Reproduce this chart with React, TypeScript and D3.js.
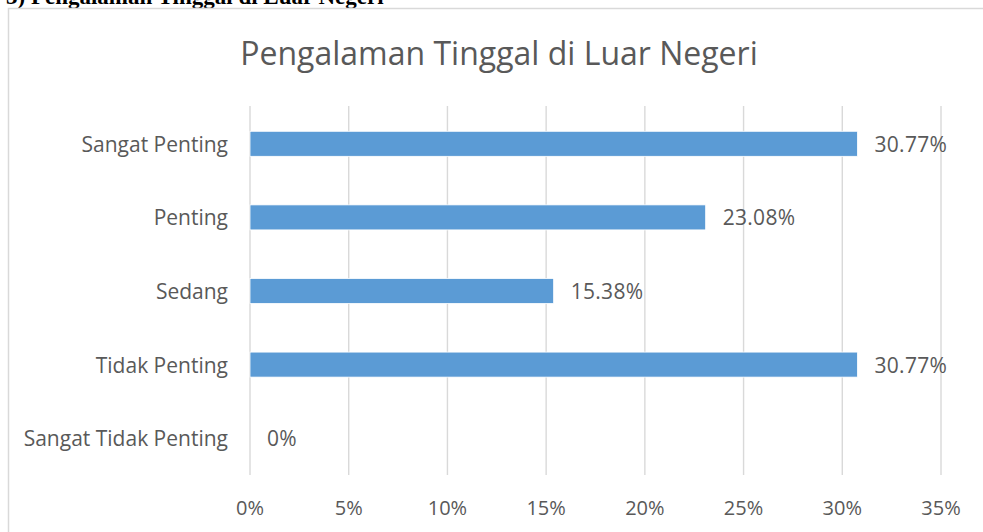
import React from "react";
import { scaleLinear, scaleBand } from "d3";

const categories = [
  "Sangat Penting",
  "Penting",
  "Sedang",
  "Tidak Penting",
  "Sangat Tidak Penting",
];
const percents = [30.77, 23.08, 15.38, 30.77, 0];
const valueLabels = ["30.77%", "23.08%", "15.38%", "30.77%", "0%"];
const ticks = [0, 5, 10, 15, 20, 25, 30, 35];

const W = 983;
const H = 532;
const FONT = "'Open Sans', Carlito, Calibri, sans-serif";
const TEXT = "#595959";
const GRID = "#d9d9d9";
const BAR = "#5b9bd5";

const App = () => {
  const x = scaleLinear().domain([0, 35]).range([250, 941]);
  const y = scaleBand<string>()
    .domain(categories)
    .range([107, 475])
    .paddingInner(0.66)
    .paddingOuter(0.33);

  return (
    <svg
      width={W}
      height={H}
      style={{ position: "fixed", left: 0, top: 0, background: "#fff" }}
    >
      <rect x={0} y={0} width={W} height={H} fill="#fff" />
      <text
        x={6}
        y={4}
        fontFamily="'Liberation Serif', 'Times New Roman', serif"
        fontWeight="bold"
        fontSize={23}
        fill="#000"
      >
        3) Pengalaman Tinggal di Luar Negeri
      </text>
      <rect
        x={8.5}
        y={8.5}
        width={1100}
        height={700}
        fill="#fff"
        stroke={GRID}
        strokeWidth={1.5}
      />
      <text
        x={499}
        y={65}
        textAnchor="middle"
        fontFamily={FONT}
        fontSize={32}
        fill={TEXT}
      >
        Pengalaman Tinggal di Luar Negeri
      </text>

      {ticks.map((t) => (
        <g key={t}>
          <line
            x1={x(t)}
            x2={x(t)}
            y1={106}
            y2={475}
            stroke={GRID}
            strokeWidth={1.4}
          />
          <text
            x={x(t)}
            y={515}
            textAnchor="middle"
            fontFamily={FONT}
            fontSize={20}
            fill={TEXT}
          >
            {t}%
          </text>
        </g>
      ))}

      {categories.map((c, i) => {
        const yc = (y(c) ?? 0) + y.bandwidth() / 2;
        return (
          <g key={c}>
            <text
              x={228}
              y={yc + 8}
              textAnchor="end"
              fontFamily={FONT}
              fontSize={21}
              fill={TEXT}
            >
              {c}
            </text>
            {percents[i] > 0 && (
              <rect
                x={x(0)}
                y={y(c)}
                width={x(percents[i]) - x(0)}
                height={y.bandwidth()}
                fill={BAR}
                stroke="#ffffff"
                strokeWidth={0.8}
              />
            )}
            <text
              x={x(percents[i]) + 17}
              y={yc + 8}
              fontFamily={FONT}
              fontSize={21}
              letterSpacing={0.3}
              fill={TEXT}
            >
              {valueLabels[i]}
            </text>
          </g>
        );
      })}
    </svg>
  );
};

export default App;
